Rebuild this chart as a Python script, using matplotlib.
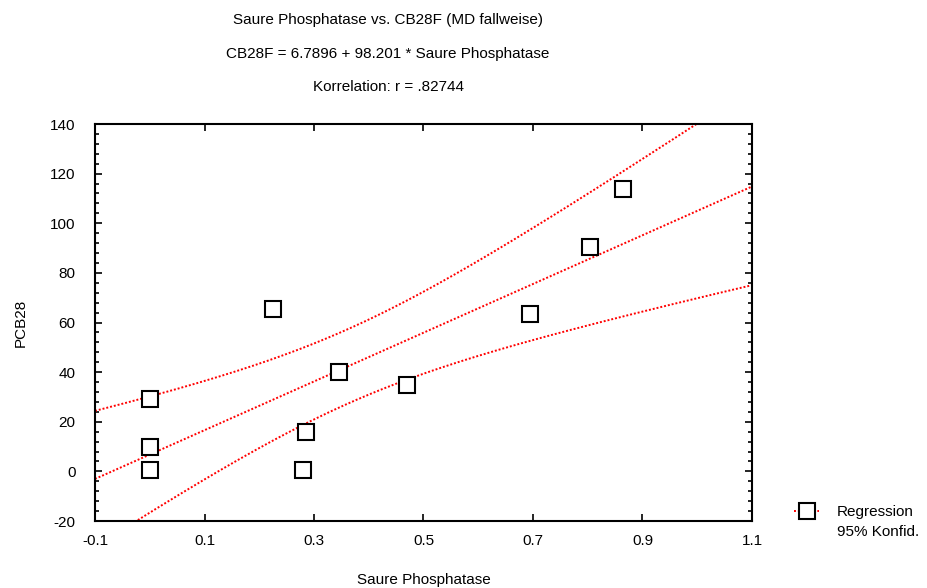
import numpy as np
import matplotlib.pyplot as plt
from matplotlib.lines import Line2D
from matplotlib.ticker import MultipleLocator, FixedLocator

plt.rcParams['font.family'] = ['Liberation Sans', 'DejaVu Sans']
plt.rcParams['axes.unicode_minus'] = False

# Saure Phosphatase vs PCB28
phos = np.array([0.0, 0.0, 0.0, 0.225, 0.285, 0.28, 0.345, 0.47, 0.695, 0.805, 0.865])
pcb28 = np.array([29.0, 10.0, 0.5, 65.5, 16.0, 0.5, 40.0, 35.0, 63.5, 90.5, 114.0])

# regression as given in the title
b0 = 6.7896
b1 = 98.201
t_crit = 2.2622  # t(0.975, df=9)

x_ticks = [-0.1, 0.1, 0.3, 0.5, 0.7, 0.9, 1.1]
x_labels = ['-0.1', '0.1', '0.3', '0.5', '0.7', '0.9', '1.1']

# confidence band for the mean
n = len(phos)
resid = pcb28 - (b0 + b1 * phos)
s = np.sqrt(np.sum(resid**2) / (n - 2))
sxx = np.sum((phos - phos.mean())**2)
xx = np.linspace(-0.1, 1.1, 300)
yy = b0 + b1 * xx
half = t_crit * s * np.sqrt(1.0 / n + (xx - phos.mean())**2 / sxx)

fig = plt.figure(figsize=(9.27, 5.88), dpi=100)
ax = fig.add_axes([0.1025, 0.1139, 0.7087, 0.6752])

red = '#ff0000'
dots = (0, (1, 1))
ax.plot(xx, yy, color=red, ls=dots, lw=1.4)
ax.plot(xx, yy + half, color=red, ls=dots, lw=1.4)
ax.plot(xx, yy - half, color=red, ls=dots, lw=1.4)
ax.plot(phos, pcb28, ls='none', marker='s', ms=11, mfc='white', mec='black', mew=1.5, zorder=5)

ax.set_xlim(-0.1, 1.1)
ax.set_ylim(-20, 140)
ax.xaxis.set_major_locator(FixedLocator(x_ticks))
ax.set_xticklabels(x_labels)
ax.yaxis.set_major_locator(MultipleLocator(20))
ax.yaxis.set_minor_locator(MultipleLocator(4))
ax.tick_params(which='both', direction='in', top=True, right=True, width=1.2, labelsize=11)
ax.tick_params(which='major', length=5)
ax.tick_params(which='minor', length=3)
ax.tick_params(axis='x', pad=9)
ax.tick_params(axis='y', pad=14)
for sp in ax.spines.values():
    sp.set_linewidth(1.5)

ax.set_xlabel('Saure Phosphatase', fontsize=11, labelpad=18)
ax.set_ylabel('PCB28', fontsize=11, labelpad=16)

fig.text(0.4186, 0.966, 'Saure Phosphatase vs. CB28F (MD fallweise)', ha='center', va='center', fontsize=11)
fig.text(0.4186, 0.909, 'CB28F = 6.7896 + 98.201 * Saure Phosphatase', ha='center', va='center', fontsize=11)
fig.text(0.4186, 0.852, 'Korrelation: r = .82744', ha='center', va='center', fontsize=11)

h_line = Line2D([], [], color=red, ls=dots, lw=1.4)
h_mark = Line2D([], [], ls='none', marker='s', ms=11, mfc='white', mec='black', mew=1.5)
h_none = Line2D([], [], ls='none')
fig.legend([(h_line, h_mark), h_none], ['Regression', '95% Konfid.'], loc='center left',
           bbox_to_anchor=(0.842, 0.112), frameon=False, fontsize=11, handlelength=1.6,
           handletextpad=1.2, labelspacing=0.38)

fig.savefig('out.png', dpi=100)
